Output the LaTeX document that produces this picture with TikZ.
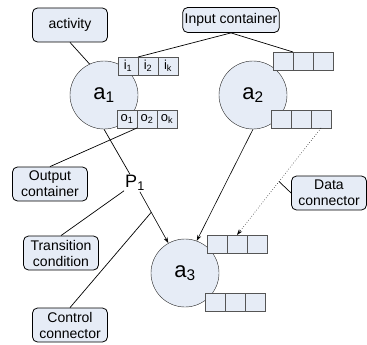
\documentclass[tikz,border=0pt]{standalone}
\usepackage{fontspec}
\setmainfont{Liberation Sans}
\usetikzlibrary{arrows.meta,positioning}
\definecolor{boxfill}{RGB}{230,236,246}
\definecolor{cellline}{RGB}{85,85,85}
\tikzset{
  act/.style={circle,draw=black!85,fill=boxfill,minimum size=68pt,inner sep=0pt,
    font=\fontsize{22}{24}\selectfont},
  cell/.style={draw=cellline,fill=boxfill,minimum width=20pt,minimum height=18pt,
    inner sep=0pt,outer sep=0pt,font=\fontsize{13}{14}\selectfont},
  note/.style={draw,line width=0.8pt,rounded corners=5pt,fill=boxfill,align=center,
    minimum width=75pt,minimum height=34pt,inner sep=2pt,font=\fontsize{14}{16}\selectfont},
  link/.style={line width=0.7pt},
  flow/.style={-{Stealth[length=6pt,width=4pt]},line width=0.6pt},
}

\begin{document}
\begin{tikzpicture}[x=1pt,y=-1pt]
  \useasboundingbox (0,0) rectangle (367,345);
  % activities
  \node[act] (a1) at (104,95) {a\textsubscript{1}};
  \node[act] (a2) at (253,95) {a\textsubscript{2}};
  \node[act] (a3) at (185,273) {a\textsubscript{3}};
  % containers of a1
  \node[cell,anchor=north west] (a1i1) at (118,57) {i\textsubscript{1}};
  \node[cell,right=0pt of a1i1] (a1i2) {i\textsubscript{2}};
  \node[cell,right=0pt of a1i2] (a1i3) {i\textsubscript{k}};
  \node[cell,anchor=north west] (a1o1) at (117,110) {o\textsubscript{1}};
  \node[cell,right=0pt of a1o1] (a1o2) {o\textsubscript{2}};
  \node[cell,right=0pt of a1o2] (a1o3) {o\textsubscript{k}};
  % containers of a2
  \node[cell,anchor=north west] (a2i1) at (273,52) {};
  \node[cell,right=0pt of a2i1] (a2i2) {};
  \node[cell,right=0pt of a2i2] (a2i3) {};
  \node[cell,anchor=north west] (a2o1) at (271,110) {};
  \node[cell,right=0pt of a2o1] (a2o2) {};
  \node[cell,right=0pt of a2o2] (a2o3) {};
  % containers of a3
  \node[cell,anchor=north west] (a3i1) at (207,235) {};
  \node[cell,right=0pt of a3i1] (a3i2) {};
  \node[cell,right=0pt of a3i2] (a3i3) {};
  \node[cell,anchor=north west] (a3o1) at (205,293) {};
  \node[cell,right=0pt of a3o1] (a3o2) {};
  \node[cell,right=0pt of a3o2] (a3o3) {};
  % transition
  \node[font=\fontsize{18}{20}\selectfont,inner sep=1pt] (P1) at (135,183) {P\textsubscript{1}};
  % notes
  \node[note] (actv) at (70,25) {activity};
  \node[note,minimum height=25pt] (inbox) at (231,20) {Input container};
  \node[note] (outbox) at (50,184) {Output\\container};
  \node[note] (trbox) at (61,253) {Transition\\condition};
  \node[note] (ctbox) at (70,325) {Control\\connector};
  \node[note] (dabox) at (329,193) {Data\\connector};
  % connectors
  \draw[link] (a1.south) -- (P1);
  \draw[flow] (P1) -- coordinate[pos=0.4] (ctl) (a3);
  \draw[flow] (a2.south) -- (a3.70);
  \draw[flow,dotted,line width=0.5pt] (a2o3.south) -- coordinate[pos=0.5] (dat) (a3i2.north);
  % note lines
  \draw[link] (actv.south) -- (a1.115);
  \draw[link] (inbox.south) -- (a1i1.north east);
  \draw[link] (inbox.south) -- (a2i1.north east);
  \draw[link] (a1o2.south west) -- (outbox.north);
  \draw[link] (trbox.north) -- (P1);
  \draw[link] (ctbox.north) -- (ctl);
  \draw[link] (dabox.west) -- (dat);
\end{tikzpicture}
\end{document}
